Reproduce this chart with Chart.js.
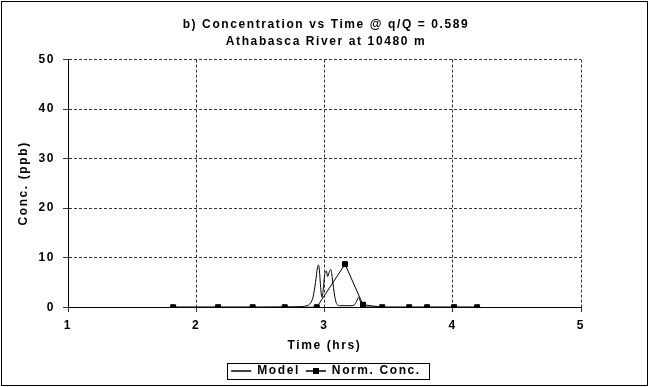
<!DOCTYPE HTML>
<html>
<head>
    <script src="https://cdn.jsdelivr.net/npm/chart.js"></script>
    <style>
        body { margin: 0; background: white; }
        #chartContainer { width: 652px; height: 387px; }
    </style>
</head>
<body>

<div id="chartContainer">
    <canvas id="myChart"></canvas>
</div>

<script type="text/javascript">
    // time (hrs) / conc (ppb)
    const modelTime = [1.80, 2.50, 2.70, 2.80, 2.86, 2.89, 2.91, 2.93, 2.945, 2.953, 2.96, 2.97, 2.98, 2.99, 3.00, 3.015, 3.025, 3.035, 3.05, 3.06, 3.07, 3.08, 3.09, 3.10, 3.12, 3.20, 3.23, 3.25, 3.265, 3.28, 3.30, 3.33, 3.50, 4.20];
    const modelConc = [0, 0, 0.05, 0.1, 0.3, 0.8, 2.0, 5.0, 8.0, 8.5, 7.5, 4.0, 2.0, 3.5, 6.3, 7.3, 6.2, 7.0, 7.6, 6.0, 4.0, 2.2, 1.0, 0.5, 0.3, 0.3, 0.4, 1.2, 2.0, 1.2, 0.3, 0.05, 0, 0];

    const normTime = [1.82, 2.17, 2.44, 2.69, 2.94, 3.16, 3.30, 3.45, 3.66, 3.80, 4.01, 4.19];
    const normConc = [0, 0, 0, 0, 0, 8.7, 0.5, 0, 0, 0, 0, 0];

    const titleLines = ['b) Concentration vs Time @ q/Q = 0.589', 'Athabasca River at 10480 m'];

    function toPoints(xs, ys) {
        let pts = [];
        for (let i = 0; i < xs.length; i++) {
            pts.push({x: xs[i], y: ys[i]});
        }
        return pts;
    }

    const fontFamily = '"Liberation Sans", Arial, sans-serif';
    const spacing = '1.6px';

    // the old chart's text is spread out a bit
    const spacingPlugin = {
        id: 'spacingPlugin',
        beforeUpdate(chart) { chart.ctx.letterSpacing = spacing; },
        beforeDraw(chart) { chart.ctx.letterSpacing = spacing; }
    };

    // outer frame + box round the legend + square on the Norm. Conc. marker
    const framePlugin = {
        id: 'framePlugin',
        afterDraw(chart) {
            const ctx = chart.ctx;
            ctx.save();
            ctx.strokeStyle = '#000';
            ctx.lineWidth = 1;
            ctx.strokeRect(1.5, 1.5, 646, 384);

            const lg = chart.legend;
            if (lg && lg.legendHitBoxes && lg.legendHitBoxes.length) {
                const boxes = lg.legendHitBoxes;
                const first = boxes[0];
                const last = boxes[boxes.length - 1];
                const cy = first.top + first.height / 2;
                const x0 = Math.round(first.left - 4) + 0.5;
                const x1 = Math.round(last.left + last.width + 8) + 0.5;
                const y0 = Math.round(cy - 8) + 0.5;
                const y1 = Math.round(cy + 8) + 0.5;
                ctx.strokeRect(x0, y0, x1 - x0, y1 - y0);
                const b = boxes[1];
                ctx.fillStyle = '#000';
                ctx.fillRect(Math.round(b.left + 10 - 3), Math.round(cy - 3), 6, 6);
            }
            ctx.restore();
        }
    };

    const data = {
        datasets: [{
            label: 'Model',
            data: toPoints(modelTime, modelConc),
            borderColor: '#000',
            backgroundColor: '#000',
            borderWidth: 1,
            pointRadius: 0,
            cubicInterpolationMode: 'monotone'
        }, {
            label: 'Norm. Conc.',
            data: toPoints(normTime, normConc),
            borderColor: '#000',
            backgroundColor: '#000',
            borderWidth: 1,
            pointRadius: 3.5,
            pointStyle: 'rect',
            tension: 0
        }]
    };

    const tickFont = { family: fontFamily, size: 12, weight: 'bold' };

    const config = {
        type: 'scatter',
        data: data,
        plugins: [spacingPlugin, framePlugin],
        options: {
            responsive: true,
            maintainAspectRatio: false,
            animation: false,
            showLine: true,
            layout: { padding: { left: 0, right: 0, top: 0, bottom: 0 } },
            plugins: {
                title: {
                    display: true,
                    text: titleLines,
                    color: '#000',
                    font: { family: fontFamily, size: 12, weight: 'bold', lineHeight: 1.4 },
                    padding: { top: 16, bottom: 10 }
                },
                legend: {
                    display: true,
                    position: 'bottom',
                    labels: {
                        color: '#000',
                        font: tickFont,
                        usePointStyle: false,
                        boxWidth: 20,
                        boxHeight: 0,
                        padding: 6
                    }
                },
                tooltip: { enabled: false }
            },
            scales: {
                x: {
                    type: 'linear',
                    min: 1,
                    max: 5,
                    ticks: { stepSize: 1, color: '#000', font: tickFont, padding: 6 },
                    grid: { color: '#333', lineWidth: 1, tickLength: 5 },
                    border: { color: '#000', width: 1, dash: [3, 2] },
                    title: { display: true, text: 'Time (hrs)', color: '#000', font: tickFont, padding: { top: 0, bottom: 6 } }
                },
                y: {
                    min: 0,
                    max: 50,
                    ticks: { stepSize: 10, color: '#000', font: tickFont, padding: 8 },
                    grid: { color: '#333', lineWidth: 1, tickLength: 5 },
                    border: { color: '#000', width: 1, dash: [3, 2] },
                    title: { display: true, text: 'Conc. (ppb)', color: '#000', font: tickFont, padding: { top: 16, bottom: 0 } },
                    afterFit: function (scale) { scale.width = 68; }
                },
                // empty axis that only keeps the right margin
                yRight: {
                    position: 'right',
                    min: 0,
                    max: 50,
                    ticks: { display: false },
                    grid: { display: false, drawTicks: false },
                    border: { display: false },
                    afterFit: function (scale) { scale.width = 71; }
                }
            }
        }
    };

    const myChart = new Chart(document.getElementById('myChart'), config);
</script>
</body>
</html>
